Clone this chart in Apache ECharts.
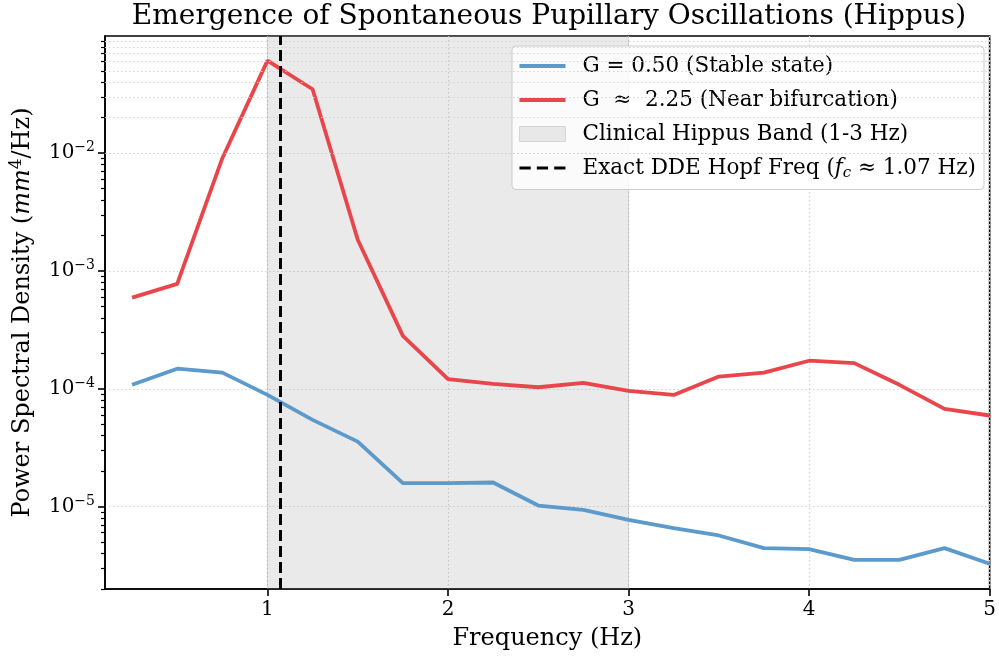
<!DOCTYPE html>
<html>
<head>
<meta charset="utf-8">
<script src="https://cdn.jsdelivr.net/npm/echarts@6.0.0/dist/echarts.min.js"></script>
</head>
<body style="margin:0">
<div id="chart" style="width:999px;height:660px"></div>
<script>
// frequency grid (Hz) and the two PSD curves
var freqs = [0.25, 0.5, 0.75, 1.0, 1.25, 1.5, 1.75, 2.0, 2.25, 2.5,
             2.75, 3.0, 3.25, 3.5, 3.75, 4.0, 4.25, 4.5, 4.75, 5.0];
var psdStable = [1.08e-4, 1.48e-4, 1.37e-4, 8.87e-5, 5.44e-5, 3.56e-5, 1.58e-5, 1.58e-5, 1.60e-5, 1.02e-5,
                 9.37e-6, 7.71e-6, 6.56e-6, 5.68e-6, 4.44e-6, 4.35e-6, 3.53e-6, 3.53e-6, 4.44e-6, 3.27e-6];
var psdNearBif = [5.94e-4, 7.77e-4, 9.07e-3, 6.11e-2, 3.49e-2, 1.84e-3, 2.81e-4, 1.21e-4, 1.10e-4, 1.03e-4,
                  1.12e-4, 9.6e-5, 8.87e-5, 1.27e-4, 1.37e-4, 1.73e-4, 1.65e-4, 1.08e-4, 6.75e-5, 5.93e-5];
var bandRange = [1, 3];
var hopfFreq = 1.07;
var xTicks = [1, 2, 3, 4, 5];
var yTicks = [1e-5, 1e-4, 1e-3, 1e-2];

var names = ['G = 0.50 (Stable state)', 'G  \u2248  2.25 (Near bifurcation)',
             'Clinical Hippus Band (1-3 Hz)', 'Exact DDE Hopf Freq (f_c \u2248 1.07 Hz)'];

var yMin = Math.pow(10, -5.70), yMax = Math.pow(10, -1.005);
var serif = 'DejaVu Serif';
var blue = '#5b9acb', red = '#e8464b';

// minor log ticks 2..9 x 10^n
var minorVals = [];
for (var e = -6; e <= -1; e++) {
    for (var k = 2; k <= 9; k++) {
        var v = k * Math.pow(10, e);
        if (v > yMin && v < yMax) minorVals.push(v);
    }
}

function pairs(ys) {
    return freqs.map(function (f, i) { return [f, ys[i]]; });
}

// legend handles (aspect kept, so they stay thin)
var lineIcon = 'path://M0,0h46v4h-46z';
var dashIcon = 'path://M0,0h11v3h-11z M17,0h11v3h-11z M34,0h11v3h-11z';

var chart = echarts.init(document.getElementById('chart'));
var dotted = { color: '#d4d4d4', type: [1.5, 2.5], width: 1.2 };
var fs = 21.5;

chart.setOption({
    animation: false,
    title: {
        text: 'Emergence of Spontaneous Pupillary Oscillations (Hippus)',
        left: 549, textAlign: 'center', top: 3, padding: 0,
        textStyle: { fontFamily: serif, fontSize: 28, fontWeight: 'normal', color: '#000' }
    },
    grid: { left: 103, right: 4, top: 36, bottom: 71, show: true, borderColor: '#000', borderWidth: 1.6 },
    legend: {
        orient: 'vertical', right: 15, top: 46,
        itemWidth: 46, itemHeight: 15, itemGap: 12,
        symbolKeepAspect: true,
        padding: [9, 8, 9, 7],
        backgroundColor: 'rgba(255,255,255,0.85)', borderColor: '#cccccc', borderWidth: 1, borderRadius: 4,
        textStyle: {
            fontFamily: serif, fontSize: fs, color: '#000',
            rich: {
                sp: { width: 12, fontSize: fs },
                t: { fontFamily: serif, fontSize: fs, color: '#000' },
                i: { fontFamily: serif, fontSize: fs, fontStyle: 'italic', color: '#000' },
                c: { fontFamily: serif, fontSize: 15, fontStyle: 'italic', color: '#000', padding: [10, 0, 0, 0] }
            }
        },
        formatter: function (n) {
            if (n === names[3]) return '{sp| }{t|Exact DDE Hopf Freq (}{i|f}{c|c}{t| \u2248 1.07 Hz)}';
            return '{sp| }{t|' + n + '}';
        },
        data: [
            { name: names[0], icon: lineIcon, itemStyle: { color: blue } },
            { name: names[1], icon: lineIcon, itemStyle: { color: red } },
            { name: names[2], icon: 'rect', itemStyle: { color: '#e8e8e8', borderColor: '#d4d4d4', borderWidth: 1 } },
            { name: names[3], icon: dashIcon, itemStyle: { color: '#000' } }
        ]
    },
    xAxis: {
        type: 'value', min: 0.1, max: 5,
        name: 'Frequency (Hz)', nameLocation: 'middle', nameGap: 38,
        nameTextStyle: { fontFamily: serif, fontSize: 24, color: '#000' },
        axisLine: { lineStyle: { color: '#000', width: 1.6 } },
        axisTick: { customValues: xTicks, length: 7, lineStyle: { color: '#000', width: 1.6 } },
        axisLabel: { customValues: xTicks, margin: 11, fontFamily: serif, fontSize: 20, color: '#000' },
        splitLine: { show: true, lineStyle: dotted }
    },
    yAxis: [{
        type: 'log', logBase: 10, min: yMin, max: yMax,
        name: '{n|Power Spectral Density (}{i|mm}{s|4}{n|/Hz)}',
        nameLocation: 'middle', nameGap: 68, nameRotate: 90,
        nameTextStyle: {
            rich: {
                n: { fontFamily: serif, fontSize: 24, color: '#000' },
                i: { fontFamily: serif, fontSize: 24, fontStyle: 'italic', color: '#000' },
                s: { fontFamily: serif, fontSize: 17, color: '#000', padding: [0, 0, 12, 0] }
            }
        },
        axisLine: { lineStyle: { color: '#000', width: 1.6 } },
        axisTick: { customValues: yTicks, length: 7, lineStyle: { color: '#000', width: 1.6 } },
        axisLabel: {
            customValues: yTicks, margin: 10,
            formatter: function (v) {
                var ex = Math.round(Math.log10(v));
                return '{b|10}{s|\u2212' + (-ex) + '}';
            },
            rich: {
                b: { fontFamily: serif, fontSize: 20, color: '#000' },
                s: { fontFamily: serif, fontSize: 14, color: '#000', padding: [0, 0, 11, 0] }
            }
        },
        splitLine: { show: true, lineStyle: dotted }
    }, {
        type: 'log', logBase: 10, min: yMin, max: yMax, position: 'left',
        axisLine: { show: false },
        axisLabel: { show: false },
        splitLine: { show: false },
        axisTick: { customValues: minorVals, length: 4, lineStyle: { color: '#000', width: 1.2 } }
    }],
    series: [{
        name: names[2], type: 'line', data: [], z: 1,
        itemStyle: { color: '#e8e8e8' },
        markArea: {
            silent: true,
            itemStyle: { color: 'rgba(140,140,140,0.18)', borderColor: 'rgba(140,140,140,0.3)', borderWidth: 1 },
            data: [[{ xAxis: bandRange[0] }, { xAxis: bandRange[1] }]]
        },
        markLine: {
            silent: true, symbol: 'none', label: { show: false },
            lineStyle: dotted,
            data: minorVals.map(function (v) { return { yAxis: v }; })
        }
    }, {
        name: names[0], type: 'line', data: pairs(psdStable), z: 3,
        symbol: 'none', showSymbol: false, color: blue,
        lineStyle: { width: 3.8, color: blue }
    }, {
        name: names[1], type: 'line', data: pairs(psdNearBif), z: 4,
        symbol: 'none', showSymbol: false, color: red,
        lineStyle: { width: 3.8, color: red }
    }, {
        name: names[3], type: 'line', data: [], z: 5,
        symbol: 'none', showSymbol: false, color: '#000',
        lineStyle: { width: 3, color: '#000', type: [11, 5] },
        markLine: {
            silent: true, symbol: 'none', label: { show: false },
            lineStyle: { width: 3, color: '#000', type: [11, 5] },
            data: [{ xAxis: hopfFreq }]
        }
    }]
});
</script>
</body>
</html>
